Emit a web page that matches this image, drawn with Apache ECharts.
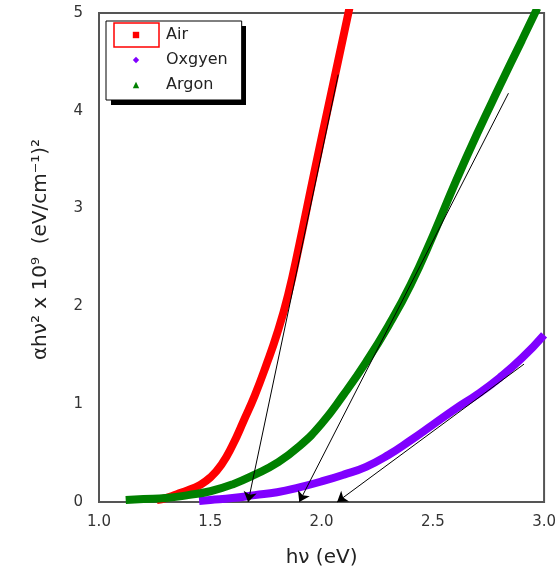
<!DOCTYPE html>
<html>
<head>
<meta charset="utf-8">
<script src="https://cdn.jsdelivr.net/npm/echarts@6/dist/echarts.min.js"></script>
<style>
  html, body { margin: 0; padding: 0; background: #fff; }
</style>
</head>
<body>
<div id="main" style="width:559px;height:573px;"></div>
<script type="text/javascript">
    // photon energy (eV) and (alpha h nu)^2 x 1e9
    let airX = [1.26, 1.30, 1.35, 1.40, 1.45, 1.50, 1.55, 1.60, 1.65, 1.70, 1.75, 1.80, 1.85, 1.90, 1.95, 2.00, 2.05, 2.10, 2.13];
    let airY = [0.02, 0.04, 0.08, 0.12, 0.17, 0.25, 0.38, 0.58, 0.83, 1.09, 1.39, 1.72, 2.12, 2.63, 3.18, 3.72, 4.25, 4.78, 5.10];

    let oxyX = [1.45, 1.50, 1.60, 1.70, 1.80, 1.90, 2.00, 2.10, 2.20, 2.30, 2.40, 2.50, 2.60, 2.70, 2.80, 2.90, 3.00];
    let oxyY = [0.01, 0.02, 0.04, 0.07, 0.10, 0.15, 0.21, 0.28, 0.36, 0.48, 0.63, 0.79, 0.95, 1.10, 1.27, 1.47, 1.71];

    let argX = [1.12, 1.20, 1.30, 1.40, 1.50, 1.60, 1.70, 1.80, 1.90, 2.00, 2.10, 2.20, 2.30, 2.40, 2.50, 2.60, 2.70, 2.80, 2.90, 2.97];
    let argY = [0.02, 0.03, 0.04, 0.07, 0.11, 0.18, 0.28, 0.40, 0.57, 0.80, 1.10, 1.43, 1.80, 2.22, 2.72, 3.26, 3.77, 4.25, 4.72, 5.05];

    // tangent lines: [start, end(arrow)]
    let airFit = [[2.075, 4.37], [1.67, 0]];
    let oxyFit = [[2.91, 1.41], [2.07, 0]];
    let argFit = [[2.84, 4.18], [1.90, 0]];

    function pairs(xs, ys) {
        return xs.map(function (x, i) { return [x, ys[i]]; });
    }

    function fitLine(f) {
        return {
            silent: true,
            animation: false,
            symbol: ['none', 'arrow'],
            symbolSize: 10,
            label: { show: false },
            lineStyle: { color: '#000', width: 1, type: 'solid' },
            data: [[{ coord: f[0] }, { coord: f[1] }]]
        };
    }

    let myChart = echarts.init(document.getElementById('main'));
    let font = 'DejaVu Sans';
    let option = {
        animation: false,
        grid: {
            left: 99, right: 14, top: 13, bottom: 69,
            show: true, borderColor: '#555', borderWidth: 2
        },
        legend: {
            orient: 'vertical',
            left: 106, top: 21,
            padding: [6, 14, 7, 4],
            itemGap: 9,
            itemWidth: 50,
            itemHeight: 8,
            backgroundColor: '#fff',
            borderColor: '#000',
            borderWidth: 1,
            lineStyle: { opacity: 0 },
            textStyle: { fontFamily: font, fontSize: 16, color: '#222' },
            data: ['Air', 'Oxgyen', 'Argon']
        },
        graphic: [
            {
                // drop shadow behind the legend box
                type: 'rect', z: 1,
                shape: { x: 111, y: 26, width: 135, height: 79 },
                style: { fill: '#000' }
            },
            {
                type: 'rect', z: 100,
                shape: { x: 114, y: 23, width: 45, height: 24 },
                style: { fill: 'none', stroke: '#ff0000', lineWidth: 1.5 }
            }
        ],
        xAxis: {
            type: 'value', min: 1, max: 3, interval: 0.5,
            name: 'hν (eV)', nameLocation: 'middle', nameGap: 46,
            nameTextStyle: { fontFamily: font, fontSize: 20, color: '#222' },
            axisLine: { show: true, lineStyle: { color: '#555', width: 2 } },
            axisTick: { show: false },
            splitLine: { show: false },
            axisLabel: {
                margin: 13, fontFamily: font, fontSize: 15, color: '#333',
                formatter: function (v) { return v.toFixed(1); }
            }
        },
        yAxis: {
            type: 'value', min: 0, max: 5, interval: 1,
            name: 'αhν² x 10⁹  (eV/cm⁻¹)²', nameLocation: 'middle', nameGap: 48, nameRotate: 90,
            nameTextStyle: { fontFamily: font, fontSize: 20, color: '#222', padding: [0, 0, 0, 16] },
            axisLine: { show: true, lineStyle: { color: '#555', width: 2 } },
            axisTick: { show: false },
            splitLine: { show: false },
            axisLabel: { margin: 16, fontFamily: font, fontSize: 15, color: '#333' }
        },
        series: [
            {
                name: 'Air', type: 'line', smooth: true, showSymbol: false,
                symbol: 'rect', color: '#ff0000',
                lineStyle: { width: 8, color: '#ff0000' },
                data: pairs(airX, airY),
                markLine: fitLine(airFit)
            },
            {
                name: 'Oxgyen', type: 'line', smooth: true, showSymbol: false,
                symbol: 'diamond', color: '#8000ff',
                lineStyle: { width: 8, color: '#8000ff' },
                data: pairs(oxyX, oxyY),
                markLine: fitLine(oxyFit)
            },
            {
                name: 'Argon', type: 'line', smooth: true, showSymbol: false,
                symbol: 'triangle', color: '#008000',
                lineStyle: { width: 8, color: '#008000' },
                data: pairs(argX, argY),
                markLine: fitLine(argFit)
            }
        ]
    };
    myChart.setOption(option);
</script>
</body>
</html>
